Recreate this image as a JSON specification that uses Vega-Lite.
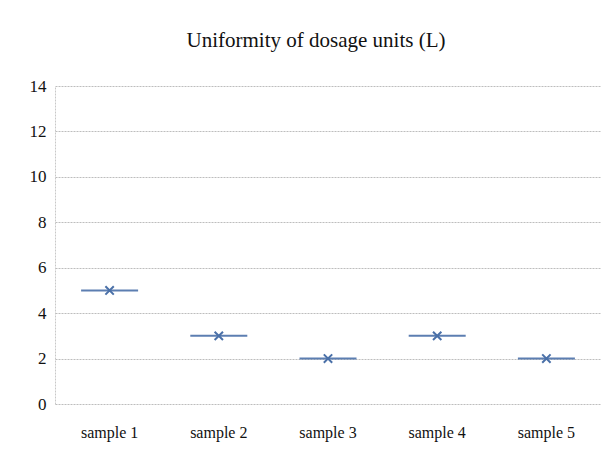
{
  "$schema": "https://vega.github.io/schema/vega-lite/v6.json",
  "autosize": "none",
  "width": 546,
  "height": 318,
  "padding": {"left": 55, "top": 86, "right": 0, "bottom": 61},
  "background": "white",
  "title": {
    "text": "Uniformity of dosage units (L)",
    "font": "Liberation Serif",
    "fontSize": 21,
    "fontWeight": "normal",
    "color": "#111111",
    "anchor": "middle",
    "dx": -12,
    "offset": 26
  },
  "data": {
    "values": [
      {"sample": "sample 1", "value": 5},
      {"sample": "sample 2", "value": 3},
      {"sample": "sample 3", "value": 2},
      {"sample": "sample 4", "value": 3},
      {"sample": "sample 5", "value": 2}
    ]
  },
  "encoding": {
    "x": {
      "field": "sample",
      "type": "nominal",
      "sort": null,
      "scale": {"paddingInner": 0, "paddingOuter": 0},
      "axis": {
        "title": null,
        "labelAngle": 0,
        "labelFont": "Liberation Serif",
        "labelFontSize": 16,
        "labelColor": "#111111",
        "labelPadding": 20,
        "ticks": false,
        "domain": false,
        "grid": false
      }
    },
    "y": {
      "field": "value",
      "type": "quantitative",
      "scale": {"domain": [0, 14], "nice": false},
      "axis": {
        "title": null,
        "values": [0, 2, 4, 6, 8, 10, 12, 14],
        "labelFont": "Liberation Serif",
        "labelFontSize": 17,
        "labelColor": "#111111",
        "labelPadding": 9,
        "ticks": false,
        "domain": true,
        "domainColor": "#c8c8c8",
        "domainDash": [2, 1],
        "grid": true,
        "gridColor": "#bdbdbd",
        "gridDash": [2, 1],
        "gridWidth": 1
      }
    }
  },
  "layer": [
    {
      "mark": {"type": "tick", "orient": "horizontal", "size": 57, "thickness": 2, "color": "#4a70a8", "opacity": 0.9}
    },
    {
      "mark": {"type": "point", "shape": "M-1,-1L1,1M-1,1L1,-1", "size": 70, "strokeWidth": 2, "color": "#4a70a8", "filled": false, "opacity": 1}
    }
  ],
  "config": {"view": {"stroke": null}}
}
